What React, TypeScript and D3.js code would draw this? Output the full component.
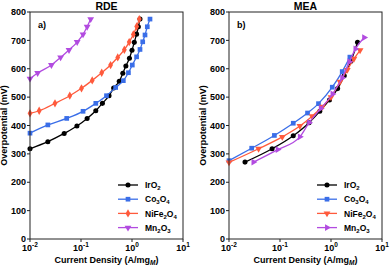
import React from "react";
import * as d3 from "d3";

// log10(current density) and overpotential (mV)
const yTicks = [0, 100, 200, 300, 400, 500, 600, 700, 800];
const xTicks = [0.01, 0.1, 1, 10];
const xTickExp = ["-2", "-1", "0", "1"];

// legend names as [text, subscript] pieces
const names = [
  [["IrO", "2"]],
  [["Co", "3"], ["O", "4"]],
  [["NiFe", "2"], ["O", "4"]],
  [["Mn", "2"], ["O", "3"]],
];
const colors = ["#000000", "#3a6ee8", "#ff5a3c", "#b24be0"];

const rdeIrX = [-2, -1.65, -1.33, -1.08, -0.88, -0.71, -0.58, -0.45, -0.36, -0.25, -0.18, -0.12, -0.05, 0.0, 0.045, 0.09, 0.125, 0.157];
const rdeIrY = [318, 343, 372, 398, 425, 452, 478, 505, 532, 556, 584, 610, 637, 665, 693, 722, 748, 775];
const rdeCoX = [-2, -1.65, -1.28, -0.96, -0.71, -0.5, -0.32, -0.17, -0.07, 0.006, 0.09, 0.157, 0.21, 0.255, 0.3, 0.353];
const rdeCoY = [373, 402, 425, 450, 478, 505, 534, 558, 586, 613, 642, 668, 695, 719, 748, 775];
const rdeNiX = [-2, -1.82, -1.51, -1.22, -0.99, -0.78, -0.594, -0.42, -0.28, -0.15, -0.055, 0.026, 0.092, 0.143];
const rdeNiY = [443, 452, 478, 505, 531, 559, 586, 613, 640, 667, 694, 721, 749, 775];
const rdeMnX = [-2, -1.85, -1.58, -1.4, -1.235, -1.075, -0.96, -0.88, -0.81];
const rdeMnY = [565, 585, 613, 640, 666, 694, 721, 748, 775];

const meaIrX = [-1.686, -1.155, -0.74, -0.43, -0.22, -0.03, 0.13, 0.26, 0.39, 0.52];
const meaIrY = [271, 318, 364, 410, 450, 490, 530, 575, 626, 693];
const meaCoX = [-2, -1.555, -1.11, -0.74, -0.46, -0.245, 0.025, 0.22, 0.37];
const meaCoY = [276, 320, 365, 408, 444, 477, 535, 590, 641];
const meaNiX = [-2, -1.42, -0.955, -0.61, -0.37, -0.17, 0.0, 0.176, 0.32, 0.45, 0.57];
const meaNiY = [270, 318, 360, 398, 433, 466, 500, 554, 596, 635, 665];
const meaMnX = [-1.52, -1.045, -0.61, -0.43, -0.2, 0.03, 0.22, 0.36, 0.48, 0.65];
const meaMnY = [271, 315, 360, 410, 460, 511, 568, 625, 670, 710];

const rdeX = [rdeIrX, rdeCoX, rdeNiX, rdeMnX];
const rdeY = [rdeIrY, rdeCoY, rdeNiY, rdeMnY];
const meaX = [meaIrX, meaCoX, meaNiX, meaMnX];
const meaY = [meaIrY, meaCoY, meaNiY, meaMnY];

const font = "'Liberation Sans', Arial, sans-serif";

function marker(kind: string, color: string, x: number, y: number, key: any) {
  let type: any = d3.symbolCircle;
  let size = 20;
  let rot = 0;
  if (kind === "square") { type = d3.symbolSquare; size = 22; }
  if (kind === "diamond") { type = d3.symbolDiamond; size = 20; }
  if (kind === "down") { type = d3.symbolTriangle; size = 20; rot = 180; }
  if (kind === "right") { type = d3.symbolTriangle; size = 20; rot = 90; }
  const p = d3.symbol().type(type).size(size)();
  return <path key={key} d={p as string} fill={color} transform={`translate(${x},${y}) rotate(${rot})`} />;
}

function Panel({ left, title, tag, xs, ys, kinds }: any) {
  const top = 12, bottom = 239, w = 153;
  const x = d3.scaleLog().domain([0.01, 10]).range([left, left + w]);
  const y = d3.scaleLinear().domain([0, 800]).range([bottom, top]);
  const line = d3.line<[number, number]>()
    .x(d => x(Math.pow(10, d[0])))
    .y(d => y(d[1]))
    .curve(d3.curveMonotoneX);
  const legX = left + 88, legY0 = 185, legDy = 14.2;
  return (
    <g fontFamily={font}>
      <text x={left + w / 2} y={10} textAnchor="middle" fontSize={10.5} fontWeight="bold">{title}</text>
      <text x={left + 8} y={28} fontSize={9} fontWeight="bold">{tag}</text>
      <clipPath id={"clip" + tag}><rect x={left} y={top} width={w} height={bottom - top} /></clipPath>
      <g clipPath={`url(#clip${tag})`}>
        {xs.map((sx: number[], i: number) => {
          const pts = sx.map((v, j) => [v, ys[i][j]] as [number, number]);
          return (
            <g key={i}>
              <path d={line(pts) as string} fill="none" stroke={colors[i]} strokeWidth={1.3} />
              {pts.map((p, j) => marker(kinds[i], colors[i], x(Math.pow(10, p[0])), y(p[1]), j))}
            </g>
          );
        })}
      </g>
      <rect x={left} y={top} width={w} height={bottom - top} fill="none" stroke="#222" strokeWidth={1} />
      {yTicks.map(t => (
        <g key={t}>
          <line x1={left - 3} x2={left} y1={y(t)} y2={y(t)} stroke="#222" />
          <text x={left - 4} y={y(t) + 3.2} textAnchor="end" fontSize={9} fontWeight="bold">{t}</text>
        </g>
      ))}
      {xTicks.map((t, i) => (
        <g key={t}>
          <line x1={x(t)} x2={x(t)} y1={bottom} y2={bottom + 3} stroke="#222" />
          <text x={x(t)} y={251} textAnchor="middle" fontSize={9} fontWeight="bold">
            10<tspan dy={-4} fontSize={6.5}>{xTickExp[i]}</tspan>
          </text>
        </g>
      ))}
      <text x={left + w / 2} y={263} textAnchor="middle" fontSize={9} fontWeight="bold">
        Current Density (A/mg<tspan dy={2} fontSize={6.5} fontStyle="italic">M</tspan><tspan dy={-2}>)</tspan>
      </text>
      <text transform={`translate(${left - 23},${(top + bottom) / 2}) rotate(-90)`} textAnchor="middle" fontSize={9} fontWeight="bold">
        Overpotential (mV)
      </text>
      {names.map((n, i) => {
        const ly = legY0 + i * legDy;
        return (
          <g key={i}>
            <line x1={legX} x2={legX + 20} y1={ly} y2={ly} stroke={colors[i]} strokeWidth={1.3} />
            {marker(kinds[i], colors[i], legX + 10, ly, "m")}
            <text x={legX + 27} y={ly + 3.2} fontSize={8.5} fontWeight="bold">
              {n.map((seg, k) => (
                <React.Fragment key={k}>
                  <tspan dy={k === 0 ? 0 : -2}>{seg[0]}</tspan>
                  <tspan dy={2} fontSize={6}>{seg[1]}</tspan>
                </React.Fragment>
              ))}
            </text>
          </g>
        );
      })}
    </g>
  );
}

export default function App() {
  return (
    <svg width={392} height={267} style={{ position: "absolute", left: 0, top: 0, background: "#fff" }}>
      <Panel left={30} title="RDE" tag="a)" xs={rdeX} ys={rdeY} kinds={["circle", "square", "diamond", "down"]} />
      <Panel left={229} title="MEA" tag="b)" xs={meaX} ys={meaY} kinds={["circle", "square", "down", "right"]} />
    </svg>
  );
}
